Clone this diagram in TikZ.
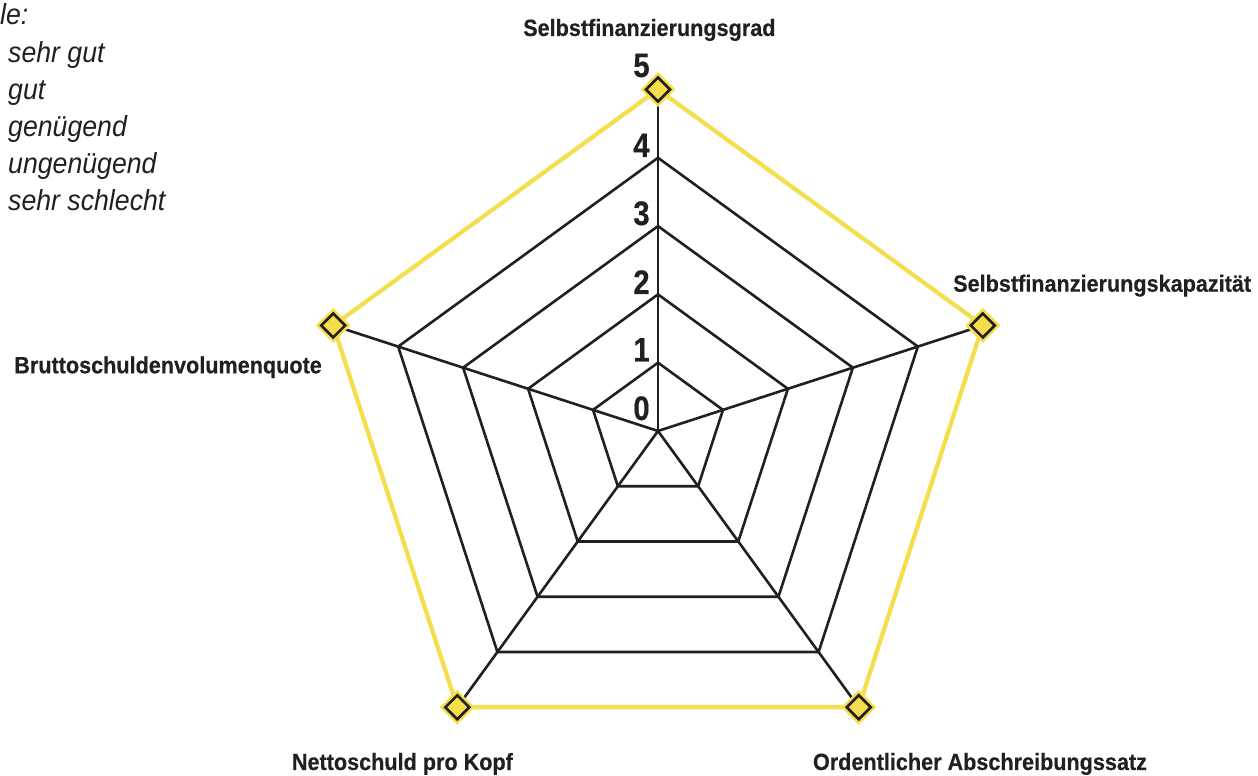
\documentclass[tikz,border=0pt]{standalone}
\usepackage{fontspec}
\usetikzlibrary{shapes.geometric,calc}
\newfontfamily\chartfont[FakeStretch=0.92]{Liberation Sans}
\newfontfamily\heavyfont[UprightFont={* Bold}, FakeStretch=0.92, FakeBold=0.35]{Liberation Sans}
\newfontfamily\digitfont[UprightFont={* Bold}, FakeStretch=0.86, FakeBold=0.4]{Liberation Sans}
\definecolor{ink}{HTML}{231F20}
\definecolor{gelb}{HTML}{F4DE4C}
\tikzset{
  gridline/.style={draw=ink, line width=2.6pt, line join=miter},
  outerline/.style={draw=gelb, line width=4.2pt, line join=miter},
  halo/.style={shape=diamond, fill=gelb, inner sep=0pt, minimum width=35pt, minimum height=35pt},
  diam/.style={shape=diamond, fill=gelb, draw=ink, line width=2.6pt, inner sep=0pt, minimum width=25pt, minimum height=25pt},
  axlabel/.style={inner sep=0pt, text=ink, font=\heavyfont\fontsize{23.5}{28}\selectfont},
  levlabel/.style={inner sep=0pt, anchor=base, text=ink, font=\digitfont\fontsize{34}{40}\selectfont},
  legtext/.style={inner sep=0pt, anchor=base west, text=ink, font=\chartfont\itshape\fontsize{29}{34}\selectfont}
}
\begin{document}
\begin{tikzpicture}[x=1pt,y=1pt]
\useasboundingbox (0,0) rectangle (1258,776);
\fill[white] (0,0) rectangle (1258,776);
\coordinate (c) at (658,345);
% grid pentagons
\foreach \k in {1,2,3,4}{
  \draw[gridline, shift={(c)}] (90:68.3*\k) -- (18:68.3*\k) -- (-54:68.3*\k) -- (-126:68.3*\k) -- (162:68.3*\k) -- cycle;
}
% level 5 positions
\coordinate (p1) at ($(c)+(90:341.5)$);
\coordinate (p2) at ($(c)+(18:341.5)$);
\coordinate (p3) at ($(c)+(-54:341.5)$);
\coordinate (p4) at ($(c)+(-126:341.5)$);
\coordinate (p5) at ($(c)+(162:341.5)$);
% spokes
\foreach \i in {1,...,5}{ \draw[gridline] (c) -- (p\i); }
% outer yellow pentagon
\draw[outerline] (p1) -- (p2) -- (p3) -- (p4) -- (p5) -- cycle;
% diamonds
\foreach \i in {1,...,5}{
  \node[halo] (h\i) at (p\i) {};
  \node[diam] (d\i) at (p\i) {};
}
% level numbers
\node[levlabel] (l5) at (641.5,699) {5};
\node[levlabel] (l4) at (641.5,619) {4};
\node[levlabel] (l3) at (641.5,551) {3};
\node[levlabel] (l2) at (641.5,482) {2};
\node[levlabel] (l1) at (641.5,414.5) {1};
\node[levlabel] (l0) at (641.5,356) {0};
% axis labels
\node[axlabel, anchor=base west] (a1) at (523,740) {Selbstfinanzierungsgrad};
\node[axlabel, anchor=base west] (a2) at (953,484.3) {Selbstfinanzierungskapazität};
\node[axlabel, anchor=base] (a3) at (980,6) {Ordentlicher Abschreibungssatz};
\node[axlabel, anchor=base west] (a4) at (291.7,6) {Nettoschuld pro Kopf};
\node[axlabel, anchor=base east] (a5) at (322,402.7) {Bruttoschuldenvolumenquote};
% legend
\node[legtext] (g0) at (0,751) {le:};
\node[legtext] (g1) at (8,713) {sehr gut};
\node[legtext] (g2) at (8,676) {gut};
\node[legtext] (g3) at (8,639) {genügend};
\node[legtext] (g4) at (8,602) {ungenügend};
\node[legtext] (g5) at (8,565) {sehr schlecht};
\end{tikzpicture}
\end{document}
